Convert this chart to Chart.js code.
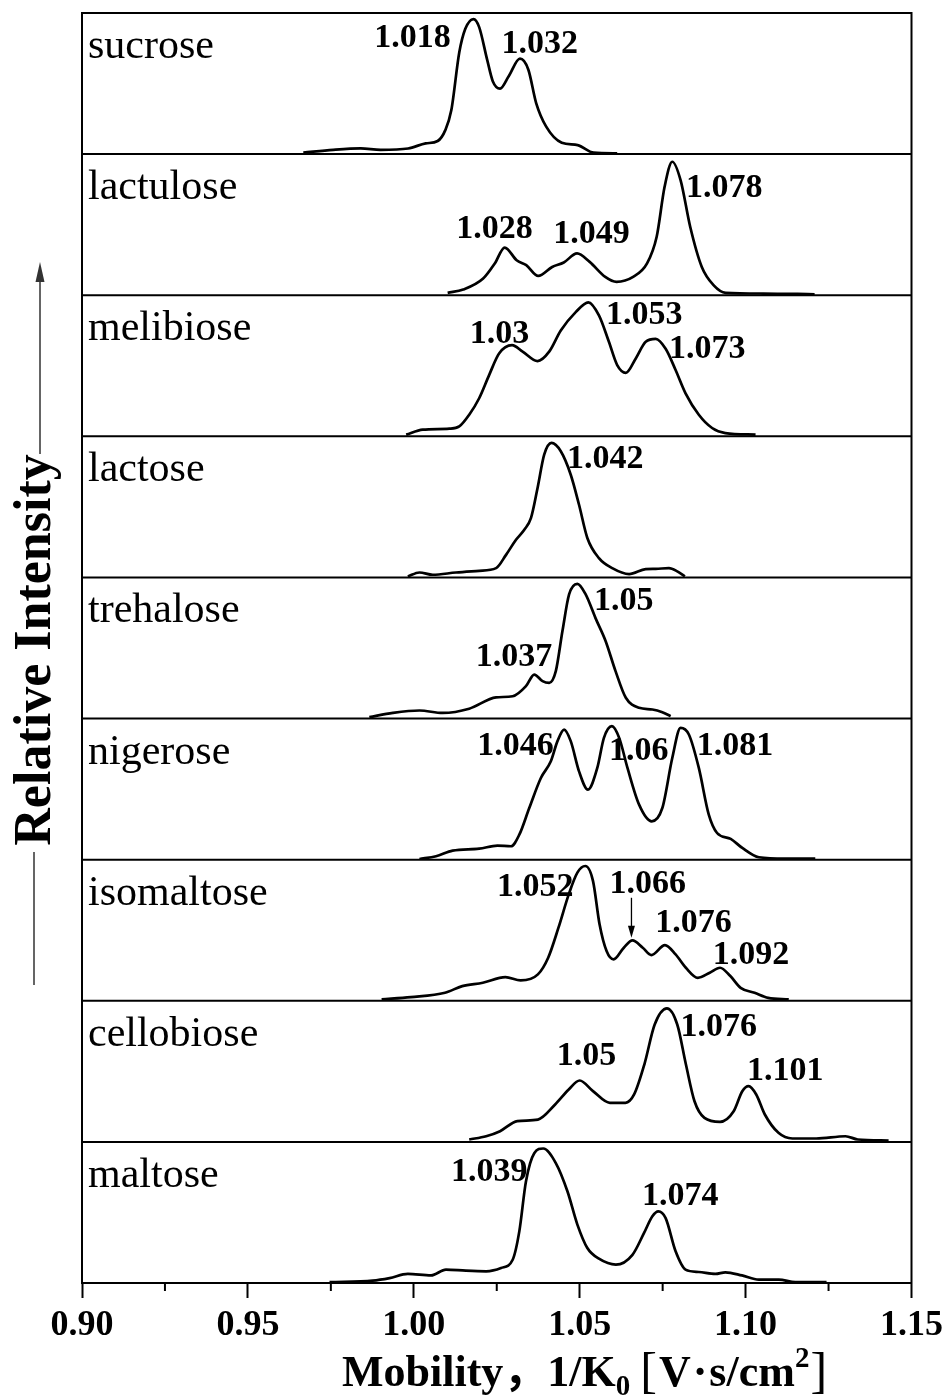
<!DOCTYPE html>
<html>
<head>
<meta charset="utf-8">
<script src="https://cdn.jsdelivr.net/npm/chart.js@4.4.1/dist/chart.umd.min.js"></script>
<style>
  html, body { margin: 0; padding: 0; background: #fff; }
  #wrap { position: relative; width: 949px; height: 1396px; }
</style>
</head>
<body>
<div id="wrap"><canvas id="chart"></canvas></div>
<script>
// x axis
const xMin = 0.90;
const xMax = 1.15;
const xTicks = [0.90, 0.95, 1.00, 1.05, 1.10, 1.15];
const xMinorTicks = [0.925, 0.975, 1.025, 1.075, 1.125];

// panels, top to bottom
const panelNames = ['sucrose', 'lactulose', 'melibiose', 'lactose', 'trehalose', 'nigerose', 'isomaltose', 'cellobiose', 'maltose'];

// [mobility, relative intensity]
const sucrose = [[0.9667,0.01],[0.9757,0.03],[0.984,0.04],[0.990,0.03],[0.9983,0.04],[1.0036,0.076],[1.0072,0.093],[1.0095,0.17],[1.0113,0.31],[1.0137,0.72],[1.0155,0.886],[1.018,0.957],[1.0197,0.90],[1.0221,0.67],[1.0238,0.517],[1.026,0.464],[1.0286,0.552],[1.032,0.676],[1.0345,0.60],[1.0369,0.36],[1.0399,0.195],[1.0446,0.081],[1.0494,0.064],[1.0542,0.01],[1.0613,0.005]];
const lactulose = [[1.0102,0.017],[1.0149,0.04],[1.0209,0.118],[1.0244,0.225],[1.0274,0.338],[1.031,0.248],[1.0339,0.213],[1.0375,0.137],[1.0417,0.20],[1.0452,0.232],[1.0492,0.296],[1.053,0.236],[1.0577,0.13],[1.0611,0.095],[1.0661,0.13],[1.0703,0.225],[1.0732,0.414],[1.0756,0.77],[1.0779,0.946],[1.0804,0.816],[1.0833,0.485],[1.0868,0.20],[1.0904,0.07],[1.094,0.017],[1.1053,0.012],[1.1208,0.007]];
const melibiose = [[0.9977,0.012],[1.0027,0.047],[1.0107,0.054],[1.0137,0.07],[1.0167,0.153],[1.0197,0.27],[1.0227,0.434],[1.0257,0.587],[1.0296,0.646],[1.0328,0.60],[1.0373,0.533],[1.0408,0.60],[1.0443,0.75],[1.0488,0.88],[1.0526,0.95],[1.0558,0.857],[1.0588,0.67],[1.0613,0.505],[1.0639,0.45],[1.0669,0.552],[1.0699,0.67],[1.0729,0.69],[1.0759,0.62],[1.0789,0.47],[1.0819,0.305],[1.0859,0.153],[1.0899,0.059],[1.0939,0.023],[1.103,0.012]];
const lactose = [[0.9982,0.007],[1.0017,0.035],[1.0057,0.019],[1.0127,0.035],[1.0197,0.047],[1.0248,0.066],[1.0278,0.16],[1.0308,0.267],[1.0333,0.338],[1.0353,0.42],[1.0373,0.634],[1.0393,0.87],[1.0415,0.953],[1.0443,0.894],[1.0473,0.728],[1.0498,0.515],[1.0523,0.28],[1.0558,0.137],[1.0598,0.066],[1.0649,0.024],[1.0699,0.059],[1.0729,0.061],[1.0769,0.066],[1.0794,0.043],[1.0817,0.007]];
const trehalose = [[0.9866,0.01],[0.9937,0.04],[1.0017,0.057],[1.0087,0.04],[1.0167,0.07],[1.0248,0.15],[1.0298,0.158],[1.0338,0.23],[1.0363,0.312],[1.0388,0.265],[1.0408,0.253],[1.0428,0.336],[1.0448,0.62],[1.0468,0.88],[1.0493,0.955],[1.0518,0.88],[1.0548,0.71],[1.0578,0.55],[1.0608,0.336],[1.0639,0.147],[1.0679,0.076],[1.0719,0.064],[1.0749,0.045],[1.0774,0.017]];
const nigerose = [[1.0017,0.005],[1.0067,0.024],[1.0117,0.064],[1.0197,0.078],[1.0252,0.10],[1.0293,0.095],[1.0318,0.177],[1.0348,0.366],[1.0383,0.579],[1.0413,0.697],[1.0433,0.84],[1.0453,0.922],[1.0473,0.84],[1.0498,0.626],[1.0525,0.496],[1.0553,0.65],[1.0573,0.863],[1.0597,0.946],[1.0619,0.863],[1.0644,0.65],[1.0679,0.39],[1.0717,0.272],[1.0749,0.366],[1.0779,0.72],[1.0804,0.934],[1.0829,0.887],[1.0859,0.65],[1.0889,0.319],[1.0914,0.189],[1.0955,0.147],[1.099,0.083],[1.104,0.017],[1.112,0.007],[1.121,0.007]];
const isomaltose = [[0.9903,0.01],[0.9991,0.026],[1.0094,0.057],[1.0146,0.104],[1.0208,0.128],[1.0276,0.168],[1.0322,0.144],[1.0374,0.187],[1.0405,0.305],[1.0436,0.518],[1.0467,0.754],[1.0493,0.908],[1.0517,0.955],[1.054,0.85],[1.056,0.54],[1.0581,0.352],[1.0602,0.293],[1.0633,0.376],[1.0659,0.428],[1.069,0.376],[1.0716,0.324],[1.0757,0.395],[1.0789,0.329],[1.082,0.234],[1.0856,0.163],[1.0892,0.199],[1.0923,0.234],[1.0954,0.175],[1.0985,0.092],[1.1027,0.057],[1.1068,0.021],[1.113,0.01]];
const cellobiose = [[1.0167,0.017],[1.0218,0.04],[1.026,0.076],[1.0312,0.147],[1.0374,0.158],[1.0426,0.265],[1.0467,0.371],[1.05,0.435],[1.054,0.36],[1.0591,0.277],[1.0638,0.277],[1.0664,0.336],[1.0695,0.55],[1.0726,0.832],[1.0763,0.946],[1.0794,0.832],[1.082,0.55],[1.0846,0.288],[1.0876,0.17],[1.0923,0.142],[1.0964,0.217],[1.099,0.359],[1.1009,0.395],[1.1032,0.336],[1.1058,0.194],[1.1099,0.064],[1.1141,0.024],[1.1213,0.024],[1.1301,0.04],[1.1338,0.017],[1.1431,0.01]];
const maltose = [[0.9746,0.007],[0.9876,0.017],[0.9927,0.035],[0.9982,0.064],[1.0052,0.054],[1.0097,0.095],[1.0157,0.087],[1.0218,0.083],[1.0263,0.106],[1.0298,0.165],[1.0318,0.366],[1.0338,0.72],[1.0363,0.92],[1.039,0.953],[1.0428,0.85],[1.0463,0.65],[1.0493,0.414],[1.0523,0.248],[1.0558,0.172],[1.0609,0.13],[1.0659,0.2],[1.0694,0.355],[1.0719,0.473],[1.0737,0.508],[1.0759,0.46],[1.0789,0.225],[1.0819,0.095],[1.0859,0.078],[1.0909,0.064],[1.0939,0.076],[1.0989,0.054],[1.104,0.024],[1.11,0.024],[1.115,0.007],[1.1244,0.007]];

const panelData = [sucrose, lactulose, melibiose, lactose, trehalose, nigerose, isomaltose, cellobiose, maltose];

// peak labels per panel
const peakLabels = [
  ['1.018', '1.032'],
  ['1.028', '1.049', '1.078'],
  ['1.03', '1.053', '1.073'],
  ['1.042'],
  ['1.05', '1.037'],
  ['1.046', '1.06', '1.081'],
  ['1.052', '1.066', '1.076', '1.092'],
  ['1.05', '1.076', '1.101'],
  ['1.039', '1.074'],
];
// where each label sits (left edge, baseline) in panel units
const peakLabelSpots = [
  [[0.9881, 0.759], [1.0264, 0.716]],
  [[1.0128, 0.404], [1.0420, 0.369], [1.0820, 0.695]],
  [[1.0169, 0.660], [1.0579, 0.794], [1.0769, 0.553]],
  [[1.0462, 0.773]],
  [[1.0543, 0.766], [1.0187, 0.369]],
  [[1.0191, 0.745], [1.0588, 0.709], [1.0853, 0.745]],
  [[1.0251, 0.745], [1.0590, 0.766], [1.0728, 0.489], [1.0901, 0.262]],
  [[1.0431, 0.546], [1.0804, 0.752], [1.1004, 0.440]],
  [[1.0112, 0.723], [1.0688, 0.553]],
];
// arrow pointing at the 1.066 shoulder of isomaltose
const arrowPanel = 6;
const arrowX = 1.0656;
const arrowFromTo = [0.73, 0.447];

const serif = '"Liberation Serif", "Times New Roman", serif';

const decor = {
  id: 'decor',
  afterDraw(chart) {
    const { ctx, chartArea: a, scales } = chart;
    const xs = scales.x;
    ctx.save();
    ctx.strokeStyle = '#000';
    ctx.fillStyle = '#000';

    // panel frames
    ctx.lineWidth = 2;
    ctx.strokeRect(a.left, a.top, a.right - a.left, a.bottom - a.top);
    panelNames.forEach((name, i) => {
      const ys = scales['y' + i];
      ctx.beginPath();
      ctx.moveTo(a.left, ys.bottom);
      ctx.lineTo(a.right, ys.bottom);
      ctx.stroke();

      ctx.font = `42px ${serif}`;
      ctx.textAlign = 'left';
      ctx.textBaseline = 'alphabetic';
      ctx.fillText(name, a.left + 6, ys.top + 45);

      ctx.font = `bold 34px ${serif}`;
      peakLabels[i].forEach((txt, k) => {
        const [lx, ly] = peakLabelSpots[i][k];
        ctx.fillText(txt, xs.getPixelForValue(lx), ys.getPixelForValue(ly));
      });
    });

    // arrow
    const ya = scales['y' + arrowPanel];
    const ax = xs.getPixelForValue(arrowX);
    const y1 = ya.getPixelForValue(arrowFromTo[0]);
    const y2 = ya.getPixelForValue(arrowFromTo[1]);
    ctx.lineWidth = 1.3;
    ctx.beginPath();
    ctx.moveTo(ax, y1);
    ctx.lineTo(ax, y2 - 8);
    ctx.stroke();
    ctx.beginPath();
    ctx.moveTo(ax, y2);
    ctx.lineTo(ax - 3.5, y2 - 12);
    ctx.lineTo(ax + 3.5, y2 - 12);
    ctx.closePath();
    ctx.fill();

    // minor ticks
    ctx.lineWidth = 2;
    xMinorTicks.forEach(v => {
      const px = xs.getPixelForValue(v);
      ctx.beginPath();
      ctx.moveTo(px, a.bottom);
      ctx.lineTo(px, a.bottom + 8);
      ctx.stroke();
    });

    // x axis title with sub/superscript: [text, font, baseline shift, gap after]
    const base = 1386;
    const parts = [
      ['Mobility\uFF0C', `bold 44px ${serif}, "Noto Sans CJK SC"`, 0, 0],
      ['1/K', `bold 44px ${serif}`, 0, 0],
      ['0', `bold 29px ${serif}`, 9, 10],
      ['[', `50px ${serif}`, 1, 2],
      ['V', `bold 44px ${serif}`, 0, 2],
      ['\u00B7', `bold 44px ${serif}`, 0, 2],
      ['s/cm', `bold 44px ${serif}`, 0, 0],
      ['2', `bold 29px ${serif}`, -19, 1],
      [']', `50px ${serif}`, 1, 0],
    ];
    let cx = 342;
    ctx.textAlign = 'left';
    parts.forEach(([t, f, dy, gap]) => {
      ctx.font = f;
      ctx.fillText(t, cx, base + dy);
      cx += ctx.measureText(t).width + gap;
    });

    // y axis label with arrow
    ctx.save();
    ctx.translate(50, 650);
    ctx.rotate(-Math.PI / 2);
    ctx.font = `bold 52px ${serif}`;
    ctx.textAlign = 'center';
    ctx.fillText('Relative Intensity', 0, 0);
    ctx.restore();
    ctx.strokeStyle = '#333';
    ctx.fillStyle = '#333';
    ctx.lineWidth = 1.5;
    ctx.beginPath();
    ctx.moveTo(34, 985);
    ctx.lineTo(34, 852);
    ctx.moveTo(40, 454);
    ctx.lineTo(40, 275);
    ctx.stroke();
    ctx.beginPath();
    ctx.moveTo(40, 262);
    ctx.lineTo(35.5, 282);
    ctx.lineTo(44.5, 282);
    ctx.closePath();
    ctx.fill();
    ctx.restore();
  },
};

// y axes: the layout puts the last-defined left axis on top, so define bottom-up
const scales = {
  x: {
    type: 'linear',
    position: 'bottom',
    min: xMin,
    max: xMax,
    afterBuildTicks: (s) => { s.ticks = xTicks.map(v => ({ value: v })); },
    ticks: {
      callback: (v) => Number(v).toFixed(2),
      color: '#000',
      font: { family: serif, size: 36, weight: 'bold' },
      padding: 6,
      maxRotation: 0,
      autoSkip: false,
    },
    grid: { drawOnChartArea: false, drawTicks: true, tickLength: 15, tickWidth: 2, tickColor: '#000' },
    border: { display: true, color: '#000', width: 2 },
    afterFit: (s) => { s.height = 113; },
  },
};
for (let i = panelNames.length - 1; i >= 0; i--) {
  scales['y' + i] = {
    type: 'linear',
    position: 'left',
    stack: 'panels',
    stackWeight: 1,
    min: 0,
    max: 1,
    ticks: { display: false },
    grid: { display: false, drawTicks: false },
    border: { display: false },
    afterFit: (s) => { s.width = 0; },
  };
}

new Chart(document.getElementById('chart'), {
  type: 'line',
  data: {
    datasets: panelData.map((pts, i) => ({
      label: panelNames[i],
      data: pts.map(([x, y]) => ({ x, y })),
      yAxisID: 'y' + i,
      borderColor: '#000',
      borderWidth: 2.7,
      pointRadius: 0,
      cubicInterpolationMode: 'monotone',
      fill: false,
    })),
  },
  options: {
    responsive: true,
    maintainAspectRatio: false,
    animation: false,
    layout: { padding: { left: 82, right: 36, top: 13, bottom: 0 } },
    plugins: { legend: { display: false }, tooltip: { enabled: false } },
    scales,
  },
  plugins: [decor],
});
</script>
</body>
</html>
